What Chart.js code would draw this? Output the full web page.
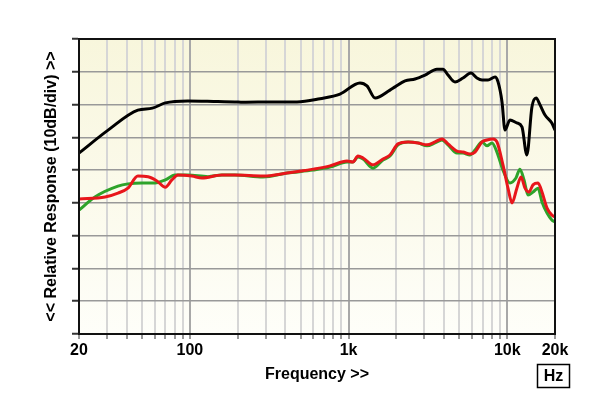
<!DOCTYPE html>
<html>
<head>
<meta charset="utf-8">
<script src="https://cdn.jsdelivr.net/npm/chart.js@4/dist/chart.umd.min.js"></script>
<style>
  html, body { margin: 0; padding: 0; background: #fff; }
  #wrap { width: 600px; height: 404px; }
</style>
</head>
<body>
<div id="wrap"><canvas id="chart" width="600" height="404"></canvas></div>
<script>
// frequency grid and labels
const xTicks = [20, 30, 40, 50, 60, 70, 80, 90, 100, 200, 300, 400, 500, 600, 700, 800, 900,
                1000, 2000, 3000, 4000, 5000, 6000, 7000, 8000, 9000, 10000, 20000];
const xLabelValues = [20, 100, 1000, 10000, 20000];
const xLabelTexts = ["20", "100", "1k", "10k", "20k"];
const majorLines = [100, 1000, 10000];

// black curve
const blackFreq = [20, 30.5, 47, 58, 70, 97, 150, 192, 216, 334, 473, 661, 883, 1180, 1306, 1470,
                   1824, 1964, 2270, 2624, 3034, 3608, 3936, 4234, 4688, 5260, 5912, 6440, 6934,
                   7566, 8376, 8750, 9270, 9680, 10400, 11500, 12380, 13300, 14300, 15200, 16100,
                   17300, 19100, 20000];
const blackDb = [55.2, 62.2, 68.3, 68.9, 70.5, 71.1, 70.9, 70.8, 70.7, 70.8, 70.8, 71.8, 73.2, 76.6,
                 75.7, 72.0, 74.4, 75.4, 77.2, 77.8, 79.0, 80.8, 80.8, 79.0, 76.9, 78.1, 79.6, 78.1,
                 77.5, 77.5, 78.4, 76.9, 70.8, 62.2, 65.3, 64.4, 63.2, 54.6, 69.2, 72.0, 69.9, 66.8,
                 64.4, 62.2];

// green curve
const greenFreq = [20, 25.2, 35.2, 40.7, 49.9, 60.3, 70, 80.5, 97, 130, 159, 192, 289, 409, 597, 764,
                   978, 1066, 1146, 1234, 1426, 1648, 1824, 2048, 2370, 2740, 3120, 3504, 3880, 4234,
                   4820, 5260, 5820, 6266, 6934, 7450, 8020, 8614, 9400, 10400, 11350, 12020, 12760,
                   13520, 14530, 15630, 16560, 17820, 19100, 20000];
const greenDb = [37.8, 41.8, 45.1, 45.8, 46.1, 46.1, 47.0, 48.5, 48.5, 48.0, 48.5, 48.5, 47.9, 49.1,
                 50.0, 50.9, 52.5, 52.5, 54.0, 53.4, 50.6, 53.1, 54.3, 57.7, 58.6, 58.3, 57.4, 58.3,
                 59.2, 57.7, 55.2, 55.2, 54.6, 56.1, 58.6, 57.4, 58.3, 55.5, 50.0, 46.1, 47.6, 50.3,
                 47.0, 42.4, 43.3, 44.5, 40.3, 36.9, 34.8, 34.2];

// red curve
const redFreq = [20, 29.2, 35.2, 40.7, 47, 54.5, 62, 70, 77, 84, 103, 119, 159, 192, 289, 409, 597,
                 764, 978, 1066, 1146, 1234, 1426, 1648, 1824, 2048, 2370, 2740, 3120, 3504, 3880,
                 4234, 4820, 5260, 5820, 6266, 6934, 7450, 8130, 8614, 9400, 10110, 10720, 11500,
                 12210, 12940, 13700, 14530, 15630, 16560, 17820, 19100, 20000];
const redDb = [41.2, 41.8, 43.0, 44.5, 48.2, 48.0, 46.7, 44.8, 47.0, 48.5, 48.2, 47.6, 48.5, 48.5,
               48.2, 49.1, 50.3, 51.3, 52.8, 52.5, 54.3, 53.7, 51.6, 53.4, 54.6, 58.0, 58.6, 58.3,
               57.7, 58.6, 59.5, 58.0, 55.8, 55.5, 54.9, 55.5, 58.6, 59.2, 59.5, 58.6, 51.6, 44.5,
               40.0, 44.5, 47.9, 44.5, 43.3, 45.5, 46.1, 43.3, 38.4, 36.3, 35.7];

function toPoints(freqs, vals) {
  return freqs.map((f, i) => ({ x: f, y: vals[i] }));
}

// plot background + frame + Hz box
const decorPlugin = {
  id: "decor",
  beforeDraw(chart) {
    const { ctx, chartArea: a } = chart;
    ctx.save();
    const g = ctx.createLinearGradient(0, a.top, 0, a.bottom);
    g.addColorStop(0, "#f8f6dc");
    g.addColorStop(1, "#fefef9");
    ctx.fillStyle = g;
    ctx.fillRect(a.left, a.top, a.right - a.left, a.bottom - a.top);
    ctx.restore();
  },
  afterDraw(chart) {
    const { ctx, chartArea: a } = chart;
    ctx.save();
    ctx.strokeStyle = "#111";
    ctx.lineWidth = 2;
    ctx.strokeRect(a.left, a.top, a.right - a.left, a.bottom - a.top);

    // Hz box
    ctx.lineWidth = 1.5;
    ctx.strokeStyle = "#000";
    ctx.strokeRect(537.5, 364.5, 32, 23);
    ctx.fillStyle = "#000";
    ctx.font = "bold 16px 'Liberation Sans', Arial, sans-serif";
    ctx.textAlign = "center";
    ctx.textBaseline = "middle";
    ctx.fillText("Hz", 553.5, 377);
    ctx.restore();
  }
};

const boldFont = { family: "'Liberation Sans', Arial, sans-serif", size: 16, weight: "bold" };

new Chart(document.getElementById("chart"), {
  type: "line",
  data: {
    datasets: [
      { data: toPoints(blackFreq, blackDb), borderColor: "#000000" },
      { data: toPoints(redFreq, redDb), borderColor: "#e8161b" },
      { data: toPoints(greenFreq, greenDb), borderColor: "#2ea32a" }
    ]
  },
  options: {
    responsive: false,
    animation: false,
    devicePixelRatio: 1,
    layout: { padding: { top: 39, right: 45, left: 0, bottom: 0 } },
    elements: {
      point: { radius: 0 },
      line: { borderWidth: 3, cubicInterpolationMode: "monotone", fill: false }
    },
    plugins: { legend: { display: false }, tooltip: { enabled: false } },
    scales: {
      x: {
        type: "logarithmic",
        min: 20,
        max: 20000,
        afterBuildTicks: (scale) => { scale.ticks = xTicks.map(v => ({ value: v })); },
        afterFit: (scale) => { scale.height = 70; },
        border: { color: "#000", width: 2 },
        grid: {
          color: (c) => majorLines.includes(c.tick && c.tick.value) ? "#a8a8a8" : "#d6d6d6",
          lineWidth: 2,
          tickColor: "#333",
          tickLength: 5,
          tickWidth: 1
        },
        ticks: {
          autoSkip: false,
          maxRotation: 0,
          padding: 2,
          color: "#000",
          font: boldFont,
          callback: (v) => {
            const i = xLabelValues.indexOf(v);
            return i >= 0 ? xLabelTexts[i] : "";
          }
        },
        title: {
          display: true,
          text: "Frequency >>",
          color: "#000",
          font: boldFont,
          padding: { top: 0, bottom: 20 }
        }
      },
      y: {
        type: "linear",
        min: 0,
        max: 90,
        afterFit: (scale) => { scale.width = 79; },
        border: { color: "#000", width: 2 },
        grid: {
          color: "#999999",
          lineWidth: 1.5,
          tickColor: "#333",
          tickLength: 7,
          tickWidth: 2
        },
        ticks: { stepSize: 10, display: false },
        title: {
          display: true,
          text: "<< Relative Response (10dB/div) >>",
          color: "#000",
          font: boldFont,
          padding: { top: 42, bottom: 0 }
        }
      }
    }
  },
  plugins: [decorPlugin]
});
</script>
</body>
</html>
